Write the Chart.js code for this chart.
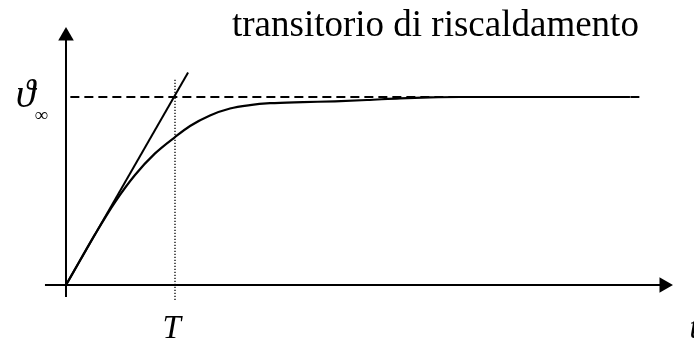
<!DOCTYPE html>
<html>
<head>
<meta charset="utf-8">
<script src="https://cdn.jsdelivr.net/npm/chart.js@4.4.0/dist/chart.umd.min.js"></script>
<style>
html, body { margin: 0; padding: 0; background: #fff; overflow: hidden; }
#wrap { width: 694px; height: 341px; }
</style>
</head>
<body>
<div id="wrap"><canvas id="heatChart" width="694" height="341"></canvas></div>
<script>
// tempo in unità di T, temperatura in unità di theta infinito
const curveT = [0, 0.128, 0.266, 0.450, 0.633, 0.817, 1.0, 1.138, 1.321, 1.505, 1.688, 1.872, 2.174, 2.468, 2.762, 3.064, 3.339, 3.615, 5.174];
const curveV = [0, 0.130, 0.269, 0.441, 0.585, 0.700, 0.787, 0.846, 0.902, 0.939, 0.957, 0.967, 0.973, 0.977, 0.984, 0.993, 0.998, 1.0, 1.0];

// retta tangente nell'origine
const tangentT = [0, 1.12];
const tangentV = [0, 1.13];

// asintoto orizzontale
const asymptoteT = [0.04, 5.29];
const asymptoteV = [1, 1];

// costante di tempo T
const markerT = [1, 1];
const markerV = [-0.08, 1.10];

// assi
const xAxisT = [-0.193, 5.486];
const yAxisV = [-0.064, 1.3245];
const xRange = [-0.6055, 5.7615];
const yRange = [-0.2979, 1.516];

const titleText = 'transitorio di riscaldamento';
const thetaLabel = 'ϑ';
const thetaSub = '∞';
const periodLabel = 'T';
const timeLabel = 't';

const zip = (xs, ys) => xs.map((x, i) => ({ x: x, y: ys[i] }));

const serif = "'Liberation Serif', 'Times New Roman', 'DejaVu Serif', serif";

const textPlugin = {
    id: 'textLabels',
    afterDraw(chart) {
        const ctx = chart.ctx;
        const sx = chart.scales.x;
        const sy = chart.scales.y;
        ctx.save();
        ctx.fillStyle = '#000';
        ctx.textBaseline = 'alphabetic';

        ctx.font = '37px ' + serif;
        ctx.textAlign = 'left';
        ctx.fillText(titleText, sx.getPixelForValue(1.523), sy.getPixelForValue(1.3245));

        ctx.font = 'italic 40px ' + serif;
        ctx.fillText(thetaLabel, sx.getPixelForValue(-0.46), sy.getPixelForValue(0.947));
        ctx.font = '19px ' + serif;
        ctx.fillText(thetaSub, sx.getPixelForValue(-0.29), sy.getPixelForValue(0.875));

        ctx.font = 'italic 33px ' + serif;
        ctx.textAlign = 'center';
        ctx.fillText(periodLabel, sx.getPixelForValue(0.97), sy.getPixelForValue(-0.283));
        ctx.textAlign = 'left';
        ctx.fillText(timeLabel, sx.getPixelForValue(5.72), sy.getPixelForValue(-0.283));
        ctx.restore();
    }
};

const heatChart = new Chart(document.getElementById('heatChart'), {
    type: 'scatter',
    data: {
        datasets: [
            {
                label: 'asse x',
                data: zip(xAxisT, [0, 0]),
                showLine: true,
                borderColor: '#000',
                borderWidth: 2,
                pointRadius: 0
            },
            {
                label: 'asse y',
                data: zip([0, 0], yAxisV),
                showLine: true,
                borderColor: '#000',
                borderWidth: 2,
                pointRadius: 0
            },
            {
                label: 'frecce',
                data: [{ x: xAxisT[1], y: 0 }, { x: 0, y: yAxisV[1] }],
                showLine: false,
                pointStyle: 'triangle',
                pointRadius: 9,
                rotation: [90, 0],
                backgroundColor: '#000',
                borderColor: '#000',
                borderWidth: 0
            },
            {
                label: 'asintoto',
                data: zip(asymptoteT, asymptoteV),
                showLine: true,
                borderColor: '#000',
                borderWidth: 2,
                borderDash: [9, 5],
                pointRadius: 0
            },
            {
                label: 'T',
                data: zip(markerT, markerV),
                showLine: true,
                borderColor: '#000',
                borderWidth: 1.3,
                borderDash: [1.3, 1.7],
                pointRadius: 0
            },
            {
                label: 'tangente',
                data: zip(tangentT, tangentV),
                showLine: true,
                borderColor: '#000',
                borderWidth: 2,
                pointRadius: 0
            },
            {
                label: 'temperatura',
                data: zip(curveT, curveV),
                showLine: true,
                borderColor: '#000',
                borderWidth: 2.2,
                cubicInterpolationMode: 'monotone',
                pointRadius: 0
            }
        ]
    },
    options: {
        responsive: false,
        animation: false,
        events: [],
        layout: { padding: 0, autoPadding: false },
        plugins: {
            legend: { display: false },
            tooltip: { enabled: false }
        },
        scales: {
            x: { type: 'linear', display: false, min: xRange[0], max: xRange[1] },
            y: { type: 'linear', display: false, min: yRange[0], max: yRange[1] }
        }
    },
    plugins: [textPlugin]
});
</script>
</body>
</html>
